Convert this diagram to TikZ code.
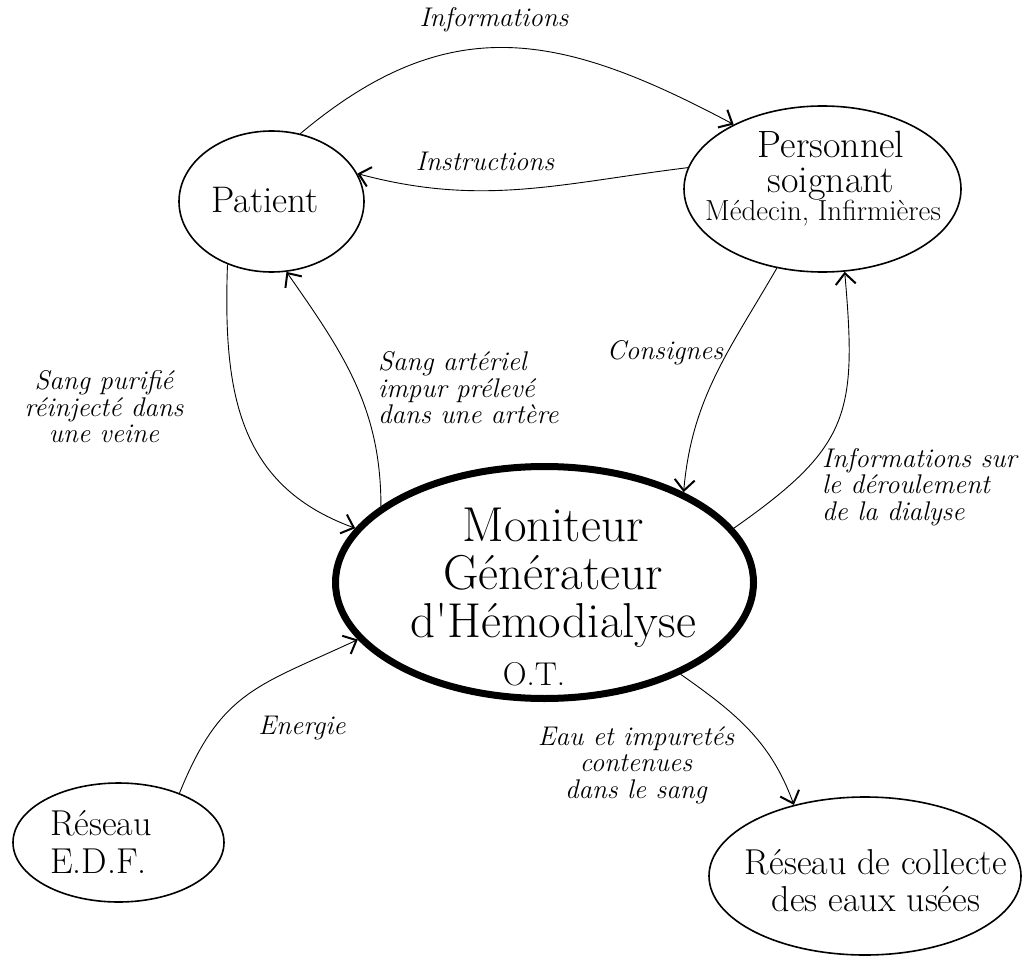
\documentclass[tikz,border=0pt]{standalone}
\usepackage{fontspec}
\usetikzlibrary{shapes.geometric,arrows.meta}
\tikzset{
    bubble/.style = {draw, ellipse, line width=1.6pt, inner sep=0pt},
    big-bubble/.style = {draw, ellipse, line width=7pt, inner sep=0pt},
    bubble-text/.style = {inner sep=0pt, align=center},
    flow/.style = {line width=0.9pt, -{Straight Barb[length=11pt,width=20pt,line width=2pt]}},
    flow-label/.style = {inner sep=0pt, align=center, font=\fontsize{27}{26.5}\selectfont\itshape},
}

\begin{document}
\begin{tikzpicture}[x=1pt,y=1pt]
\useasboundingbox (0,0) rectangle (1032,-957);
\node[bubble, minimum width=185pt, minimum height=141pt] (patient) at (271.5,-201.5) {};
\node[bubble-text, font=\fontsize{37}{40}\selectfont] (patient-text) at (265,-200.5) {Patient};
\node[bubble, minimum width=277pt, minimum height=166pt] (personnel) at (822.5,-189) {};
\node[bubble-text, font=\fontsize{38}{35}\selectfont] (personnel-text) at (831,-166) {Personnel\\soignant};
\node[bubble-text, font=\fontsize{29}{30}\selectfont] (personnel-sub) at (823,-213) {Médecin, Infirmières};
\node[big-bubble, minimum width=418pt, minimum height=232pt] (moniteur) at (544.5,-582.5) {};
\node[bubble-text, font=\fontsize{49}{48}\selectfont] (moniteur-text) at (553,-578) {Moniteur\\Générateur\\d\textquotesingle Hémodialyse};
\node[bubble-text, font=\fontsize{33}{34}\selectfont] (moniteur-ot) at (534,-674) {O.T.};
\node[bubble, minimum width=211pt, minimum height=119pt] (edf) at (118.5,-842.5) {};
\node[bubble-text, align=left, anchor=west, font=\fontsize{36}{38}\selectfont] (edf-text) at (50,-842) {Réseau\\E.D.F.};
\node[bubble, minimum width=312pt, minimum height=158pt] (collecte) at (865,-876) {};
\node[bubble-text, font=\fontsize{36}{37}\selectfont] (collecte-text) at (876,-881) {Réseau de collecte\\des eaux usées};

\draw[flow] (patient.67) to[out=40,in=152,looseness=1.15] (personnel.144);
\draw[flow] (personnel.171) to[out=187,in=-15] (patient.18);
\draw[flow] (patient.235) to[out=268,in=160,looseness=1.1] (moniteur.164);
\draw[flow] (moniteur.155) to[out=90,in=-55] (patient.-78);
\draw[flow] (personnel.240) to[out=240,in=85] (moniteur.33);
\draw[flow] (moniteur.16) to[out=35,in=-85,looseness=1.3] (personnel.-75);
\draw[flow] (edf.39) to[out=68,in=205,looseness=1.2] (moniteur.197);
\draw[flow] (moniteur.-34) to[out=-35,in=110] (collecte.135);

\node[flow-label] (info-label) at (494,-20) {Informations};
\node[flow-label] (instr-label) at (485,-161) {Instructions};
\node[flow-label] (purifie-label) at (104,-407) {Sang purifié\\réinjecté dans\\une veine};
\node[flow-label, align=left, anchor=west] (arteriel-label) at (378,-388) {Sang artériel\\impur prélevé\\dans une artère};
\node[flow-label] (consignes-label) at (665,-353) {Consignes};
\node[flow-label, align=left, anchor=west] (deroulement-label) at (822,-487) {Informations sur\\le déroulement\\de la dialyse};
\node[flow-label] (energie-label) at (302,-728) {Energie};
\node[flow-label] (eau-label) at (636,-765) {Eau et impuretés\\contenues\\dans le sang};
\end{tikzpicture}
\end{document}
